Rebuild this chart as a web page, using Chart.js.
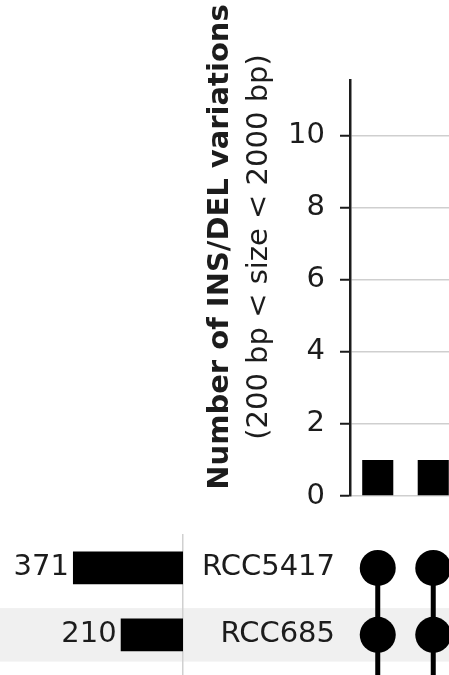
<!DOCTYPE html>
<html>
<head>
<meta charset="utf-8">
<script src="https://cdn.jsdelivr.net/npm/chart.js@4.4.1/dist/chart.umd.min.js"></script>
<style>
  html, body { margin: 0; padding: 0; background: #fff; overflow: hidden; }
  body { width: 449px; height: 675px; position: relative; }
  canvas { position: absolute; }
  #counts { left: 190px; top: 0; }
  #matrix { left: 0; top: 520px; }
  #sizes { left: 0; top: 520px; }
</style>
</head>
<body>
<canvas id="counts" width="271" height="520"></canvas>
<canvas id="matrix" width="461" height="155"></canvas>
<canvas id="sizes" width="190" height="155"></canvas>
<script>
// intersections (columns) visible in the crop
const intersectionLabels = ['#1', '#2'];
const intersectionValues = [1, 1];
const countTicks = [0, 2, 4, 6, 8, 10];

// sets (rows)
const setNames = ['RCC5417', 'RCC685'];
const setSizes = [371, 210];
const shadedRows = [1];
// rows taking part in each intersection; row 2 lies below the cropped edge
const memberRows = [[0, 1, 2], [0, 1, 2]];

const ink = '#1c1c1c';
Chart.defaults.font.family = "'DejaVu Sans', sans-serif";
Chart.defaults.font.size = 29;
Chart.defaults.color = ink;

const noPlugins = { legend: { display: false }, tooltip: { enabled: false } };

// keep the chart area exactly where layout.padding puts it
const fitWidth = w => s => { s.width = w; s.paddingTop = 0; s.paddingBottom = 0; };

// two-line y title, bold first line
const yTitle = {
  id: 'yTitle',
  afterDraw(chart) {
    const ctx = chart.ctx;
    const lines = [
      ['bold 29px "DejaVu Sans"', 'Number of INS/DEL variations', 38],
      ['29px "DejaVu Sans"', '(200 bp < size < 2000 bp)', 77]
    ];
    ctx.save();
    ctx.fillStyle = ink;
    ctx.textAlign = 'center';
    ctx.textBaseline = 'alphabetic';
    lines.forEach(([font, text, x]) => {
      ctx.save();
      ctx.translate(x, 247);
      ctx.rotate(-Math.PI / 2);
      ctx.font = font;
      ctx.fillText(text, 0, 0);
      ctx.restore();
    });
    ctx.restore();
  }
};

new Chart(document.getElementById('counts'), {
  type: 'bar',
  data: {
    labels: intersectionLabels,
    datasets: [{
      data: intersectionValues,
      backgroundColor: '#000',
      barPercentage: 0.56,
      categoryPercentage: 1
    }]
  },
  options: {
    responsive: false,
    animation: false,
    layout: { autoPadding: false, padding: { top: 80, bottom: 24, left: 0, right: 0 } },
    plugins: noPlugins,
    scales: {
      x: { display: false },
      y: {
        min: 0,
        max: 11.55,
        afterFit: fitWidth(160),
        afterBuildTicks: s => { s.ticks = countTicks.map(v => ({ value: v })); },
        ticks: { padding: 15, color: ink },
        grid: { color: '#cfcfcf', lineWidth: 1.5, tickLength: 10, tickColor: ink, tickWidth: 2 },
        border: { color: ink, width: 2.5 }
      }
    }
  },
  plugins: [yTitle]
});

// light band behind shaded rows, across the whole width
const rowBands = {
  id: 'rowBands',
  beforeDraw(chart) {
    const y = chart.scales.y;
    const ctx = chart.ctx;
    ctx.save();
    ctx.fillStyle = '#f0f0f0';
    shadedRows.forEach(r => {
      const a = y.getPixelForValue(r - 0.4);
      const b = y.getPixelForValue(r + 0.4);
      ctx.fillRect(0, Math.min(a, b), chart.width, Math.abs(b - a));
    });
    ctx.restore();
  }
};

const rowScale = {
  type: 'linear',
  reverse: true,
  offset: false,
  min: -0.5,
  max: 1.6,
  afterBuildTicks: s => { s.ticks = setNames.map((_, i) => ({ value: i })); }
};

const dots = memberRows.flatMap((rows, c) => rows.map(r => ({ x: c, y: r })));
const connectors = memberRows.map((rows, c) => ({
  type: 'line',
  data: [{ x: c, y: Math.min(...rows) }, { x: c, y: Math.max(...rows) }],
  borderColor: '#000',
  borderWidth: 5,
  pointRadius: 0
}));

new Chart(document.getElementById('matrix'), {
  type: 'scatter',
  data: {
    datasets: [{
      data: dots,
      backgroundColor: '#000',
      borderColor: '#000',
      pointRadius: 18,
      pointBorderWidth: 0
    }, ...connectors]
  },
  options: {
    responsive: false,
    animation: false,
    layout: { autoPadding: false, padding: { top: 14.5, bottom: 0, left: 0, right: 0 } },
    plugins: noPlugins,
    scales: {
      x: { type: 'linear', min: -0.5, max: 1.5, display: false },
      y: {
        ...rowScale,
        afterFit: fitWidth(350),
        ticks: { padding: 15, color: ink, callback: v => setNames[v] },
        grid: { display: false, drawTicks: false },
        border: { display: false }
      }
    }
  },
  plugins: [rowBands]
});

// set size numbers left of each bar
const sizeLabels = {
  id: 'sizeLabels',
  afterDatasetsDraw(chart) {
    const ctx = chart.ctx;
    ctx.save();
    ctx.fillStyle = ink;
    ctx.font = '29px "DejaVu Sans"';
    ctx.textAlign = 'right';
    ctx.textBaseline = 'middle';
    chart.getDatasetMeta(0).data.forEach((bar, i) => {
      ctx.fillText(String(setSizes[i]), bar.x - 4, bar.y);
    });
    ctx.restore();
  }
};

new Chart(document.getElementById('sizes'), {
  type: 'bar',
  data: {
    datasets: [{
      data: setSizes.map((v, i) => ({ x: v, y: i })),
      backgroundColor: '#000',
      barPercentage: 0.49,
      categoryPercentage: 1
    }]
  },
  options: {
    indexAxis: 'y',
    responsive: false,
    animation: false,
    layout: { autoPadding: false, padding: { top: 14.5, bottom: 0, left: 0, right: 0 } },
    plugins: noPlugins,
    scales: {
      x: { type: 'linear', reverse: true, min: 0, max: 617, display: false },
      y: {
        ...rowScale,
        position: 'right',
        afterFit: fitWidth(7),
        ticks: { display: false },
        grid: { display: false, drawTicks: false },
        border: { color: '#d0d0d0', width: 1.5 }
      }
    }
  },
  plugins: [sizeLabels]
});
</script>
</body>
</html>
